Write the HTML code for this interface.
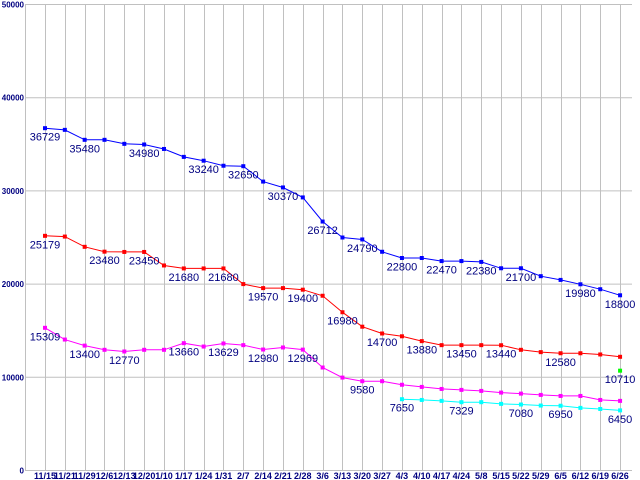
<!DOCTYPE html>
<html><head><meta charset="utf-8"><style>
html,body{margin:0;padding:0;background:#fff;}
svg{display:block;font-family:"Liberation Sans",sans-serif;}
</style></head><body>
<svg id="chart" width="640" height="480" viewBox="0 0 640 480" xmlns="http://www.w3.org/2000/svg"></svg>
<script>
const categories=["11/15","11/21","11/29","12/6","12/13","12/20","1/10","1/17","1/24","1/31","2/7","2/14","2/21","2/28","3/6","3/13","3/20","3/27","4/3","4/10","4/17","4/24","5/8","5/15","5/22","5/29","6/5","6/12","6/19","6/26"];
const blueValues=[36729,36550,35480,35480,35050,34980,34500,33650,33240,32700,32650,31000,30370,29300,26712,25000,24790,23470,22800,22800,22470,22470,22380,21700,21700,20850,20450,19980,19450,18800];
const blueLabelIdx=[0,2,5,8,10,12,14,16,18,20,22,24,27,29];
const redValues=[25179,25100,24000,23480,23450,23450,22000,21680,21680,21680,20000,19570,19570,19400,18750,16980,15430,14700,14400,13880,13450,13450,13450,13440,12950,12700,12580,12580,12450,12200];
const redLabelIdx=[0,3,5,7,9,11,13,15,17,19,21,23,26];
const magentaValues=[15309,14050,13400,12950,12770,12950,12950,13660,13300,13629,13450,12980,13200,12969,11050,9970,9580,9580,9200,8970,8750,8650,8540,8360,8250,8110,8000,8000,7570,7470];
const magentaLabelIdx=[0,2,4,7,9,11,13,16];
const cyanStart=18;
const cyanValues=[7650,7570,7470,7329,7329,7150,7080,6970,6950,6720,6600,6450];
const cyanLabelIdx=[0,3,6,8,11];
const greenIdx=29;
const greenValue=10710;
const yTicks=[0,10000,20000,30000,40000,50000];

const svg=document.getElementById('chart');
const NS='http://www.w3.org/2000/svg';
const X0=45,DX=19.83,Y0=470.5,YTOP=4.5,YMAX=50000;
function xs(i){return X0+i*DX;}
function ys(v){return Y0-(v/YMAX)*(Y0-YTOP);}
function mk(t,a){const e=document.createElementNS(NS,t);for(const k in a)e.setAttribute(k,a[k]);svg.appendChild(e);return e;}

yTicks.forEach(v=>{
  const l=mk('line',{x1:25,x2:632,y1:ys(v),y2:ys(v),stroke:'#c0c0c0','stroke-width':1});
  
  
  const t=mk('text',{x:24,y:ys(v)+3,'text-anchor':'end','font-size':8,'font-weight':'bold',fill:'#000080'});
  t.textContent=String(v);
  
  
});
const ax=mk('line',{x1:25.5,x2:25.5,y1:4,y2:471,stroke:'#c0c0c0','stroke-width':1});


categories.forEach((c,i)=>{
  const l=mk('line',{x1:Math.round(xs(i))+0.5,x2:Math.round(xs(i))+0.5,y1:4,y2:471,stroke:'#c0c0c0','stroke-width':1});
  
  
  const t=mk('text',{x:xs(i),y:479,'text-anchor':'middle','font-size':9,'font-weight':'bold',fill:'#000080'});
  t.textContent=c;
  
  
});

function series(vals,start,color,labels,name){
  const pts=vals.map((v,i)=>xs(i+start).toFixed(1)+','+ys(v).toFixed(1)).join(' ');
  const pl=mk('polyline',{points:pts,fill:'none',stroke:color,'stroke-width':1});
  
  
  vals.forEach((v,i)=>{
    const r=mk('rect',{x:xs(i+start)-2,y:ys(v)-2,width:4,height:4,fill:color});
    
    
  });
  labels.forEach(i=>{
    const t=mk('text',{x:xs(i+start),y:ys(vals[i])+12.5,'text-anchor':'middle','font-size':11,fill:'#000080'});
    t.textContent=String(vals[i]);
    
    
  });
}
series(blueValues,0,'#0000ff',blueLabelIdx,'blue-series');
series(redValues,0,'#ff0000',redLabelIdx,'red-series');
series(magentaValues,0,'#ff00ff',magentaLabelIdx,'magenta-series');
series(cyanValues,cyanStart,'#00ffff',cyanLabelIdx,'cyan-series');
const g=mk('rect',{x:xs(greenIdx)-2,y:ys(greenValue)-2,width:4,height:4,fill:'#00ff00'});


const gt=mk('text',{x:xs(greenIdx),y:ys(greenValue)+12.5,'text-anchor':'middle','font-size':11,fill:'#000080'});
gt.textContent=String(greenValue);


</script>
</body></html>
